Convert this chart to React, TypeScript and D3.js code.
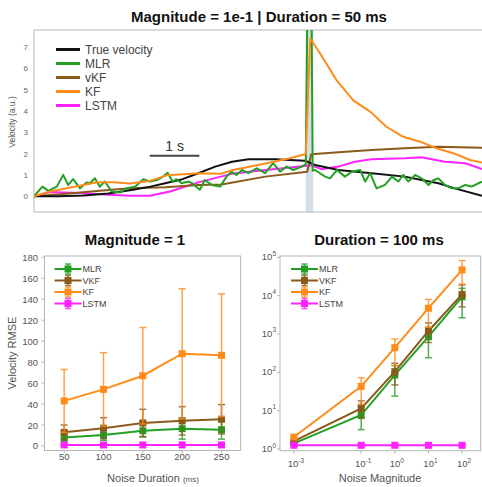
import React from "react";
import * as d3 from "d3";

// ---- top panel: decoded velocity traces, [time (s), velocity (a.u.)]
const trueVelocity: [number, number][] = [
  [0, 0], [0.5, 0], [1, 0.03], [1.5, 0.13], [2, 0.3], [2.35, 0.45], [2.65, 0.61], [3, 0.8],
  [3.32, 1.08], [3.66, 1.39], [4, 1.62], [4.33, 1.73], [4.87, 1.73], [5.47, 1.67], [5.68, 1.47],
  [6.15, 1.23], [6.82, 1.08], [7.49, 0.92], [7.83, 0.76], [8.17, 0.61], [8.5, 0.37], [9.05, 0.02],
];
const mlrTrace: [number, number][] = [
  [0, 0], [0.17, 0.45], [0.29, 0.25], [0.46, 0.45], [0.59, 1.0], [0.69, 0.53], [0.79, 0.8],
  [0.93, 0.37], [1.06, 0.64], [1.13, 0.61], [1.23, 0.84], [1.33, 0.45], [1.43, 0.69], [1.57, 0.22],
  [1.74, 0.17], [1.87, 0.37], [2.04, 0.45], [2.21, 0.8], [2.34, 0.69], [2.48, 0.76], [2.61, 0.92],
  [2.7, 1.1], [2.8, 0.69], [2.88, 0.8], [2.98, 0.61], [3.12, 0.69], [3.2, 0.6], [3.35, 0.3],
  [3.45, 0.76], [3.59, 0.53], [3.76, 0.45], [3.89, 0.92], [3.99, 1.15], [4.09, 1.0], [4.2, 1.23],
  [4.33, 1.08], [4.5, 1.31], [4.67, 1.08], [4.83, 1.55], [4.97, 1.15], [5.1, 1.39], [5.24, 1.23],
  [5.41, 1.39], [5.49, 1.5], [5.57, 20], [5.63, 1.2], [5.68, 1.23], [5.88, 0.92], [5.98, 0.84],
  [6.12, 1.23], [6.28, 0.92], [6.42, 1.15], [6.59, 1.23], [6.69, 0.69], [6.79, 1.08], [6.92, 0.37],
  [7.09, 0.53], [7.23, 0.92], [7.36, 0.69], [7.46, 1.0], [7.56, 0.69], [7.7, 1.0], [7.83, 0.84],
  [7.97, 0.53], [8.07, 0.76], [8.17, 0.84], [8.3, 0.53], [8.44, 0.37], [8.57, 0.37], [8.71, 0.53],
  [8.84, 0.45], [8.98, 0.61], [9.05, 0.69],
];
const vkfTrace: [number, number][] = [
  [0, 0], [0.59, 0.11], [1.27, 0.25], [1.94, 0.37], [2.65, 0.42], [3.32, 0.53], [3.79, 0.55],
  [4.67, 0.92], [5.52, 1.15], [5.6, 1.97], [6.15, 2.06], [6.82, 2.17], [7.49, 2.25], [8.17, 2.32],
  [8.6, 2.3], [9.05, 2.27],
];
const kfTrace: [number, number][] = [
  [0, 0], [0.32, 0.22], [0.66, 0.37], [1.0, 0.53], [1.27, 0.66], [1.6, 0.66], [1.94, 0.6],
  [2.34, 0.72], [2.68, 0.98], [3.35, 1.08], [3.76, 1.05], [4.02, 1.23], [4.7, 1.55], [5.17, 1.78],
  [5.49, 1.98], [5.58, 7.4], [5.78, 6.7], [6.11, 5.45], [6.45, 4.5], [6.79, 3.97], [7.12, 3.26],
  [7.46, 2.79], [7.8, 2.56], [8.13, 2.25], [8.47, 2.02], [8.81, 1.7], [9.05, 1.58],
];
const lstmTrace: [number, number][] = [
  [0, 0], [0.32, 0.2], [0.93, 0.15], [1.6, 0.06], [1.94, 0.02], [2.34, 0.02], [2.75, 0.22],
  [3.32, 0.65], [3.99, 1.05], [4.67, 1.23], [5.47, 1.42], [5.6, 1.45], [5.81, 1.27], [6.15, 1.39],
  [6.48, 1.62], [6.82, 1.73], [7.49, 1.78], [7.83, 1.83], [8.3, 1.62], [8.71, 1.55], [9.05, 1.28],
];
const noiseWindow = [5.49, 5.64];
const topYTicks = [0, 1, 2, 3, 4, 5, 6, 7];

// ---- bottom left: RMSE vs noise duration (magnitude = 1)
const durations = [50, 100, 150, 200, 250];
const durMLR = [8, 10.5, 14.5, 16.5, 15.5];
const durMLRsd = [4, 5, 6, 10, 9];
const durVKF = [13, 17, 22, 24, 25.5];
const durVKFsd = [7, 10, 13, 13.5, 14];
const durKF = [43, 54, 67, 88, 86.5];
const durKFsd = [30, 35, 46, 62, 58.5];
const durLSTM = [1, 1, 1, 1, 1];
const durLSTMsd = [0.3, 0.3, 0.3, 0.3, 0.3];
const leftYTicks = [0, 20, 40, 60, 80, 100, 120, 140, 160, 180];

// ---- bottom right: RMSE vs noise magnitude (duration = 100 ms)
const magnitudes = [1e-3, 1e-1, 1, 10, 100];
const magExp = ["-3", "-1", "0", "1", "2"];
const magMLR = [1.4, 7.7, 85, 850, 9300];
const magMLRlo = [1.3, 3.2, 24, 240, 2650];
const magMLRhi = [1.5, 13, 150, 1500, 15500];
const magVKF = [1.6, 11.5, 104, 1200, 10800];
const magVKFlo = [1.5, 6.3, 47, 600, 5100];
const magVKFhi = [1.7, 18, 172, 1950, 19000];
const magKF = [2.05, 43, 440, 4700, 47000];
const magKFlo = [1.9, 15, 150, 1500, 20000];
const magKFhi = [2.2, 72, 740, 8000, 82000];
const magLSTM = [1.25, 1.25, 1.25, 1.25, 1.25];
const magLSTMlo = [1.2, 1.2, 1.2, 1.2, 1.2];
const magLSTMhi = [1.3, 1.3, 1.3, 1.3, 1.3];
const rightYExp = [0, 1, 2, 3, 4, 5];

const C = {
  black: "#111111",
  green: "#23a023",
  brown: "#8b5a1b",
  orange: "#ff8c1a",
  magenta: "#ff22ff",
  frame: "#b5b5b5",
  text: "#555",
};
const FONT = "Liberation Sans, Arial, sans-serif";

type Pt = { x: number; y: number; lo: number; hi: number };

function ErrSeries({ pts, xs, ys, color }: { pts: Pt[]; xs: any; ys: any; color: string }) {
  const line = d3.line<Pt>().x((d) => xs(d.x)).y((d) => ys(d.y));
  return (
    <g>
      {pts.map((d, i) => (
        <g key={i} stroke={color} strokeWidth={1.5} opacity={0.8}>
          <line x1={xs(d.x)} x2={xs(d.x)} y1={ys(d.lo)} y2={ys(d.hi)} />
          <line x1={xs(d.x) - 3.5} x2={xs(d.x) + 3.5} y1={ys(d.lo)} y2={ys(d.lo)} />
          <line x1={xs(d.x) - 3.5} x2={xs(d.x) + 3.5} y1={ys(d.hi)} y2={ys(d.hi)} />
        </g>
      ))}
      <path d={line(pts) || ""} fill="none" stroke={color} strokeWidth={2} />
      {pts.map((d, i) => (
        <rect key={i} x={xs(d.x) - 3.5} y={ys(d.y) - 3.5} width={7} height={7} fill={color} />
      ))}
    </g>
  );
}

function ErrLegend({ x, y, items }: { x: number; y: number; items: [string, string][] }) {
  return (
    <g>
      {items.map(([name, color], i) => {
        const yy = y + i * 11.5;
        return (
          <g key={name}>
            <line x1={x} x2={x + 27} y1={yy} y2={yy} stroke={color} strokeWidth={2} />
            <line x1={x + 13.5} x2={x + 13.5} y1={yy - 5} y2={yy + 5} stroke={color} strokeWidth={1.5} opacity={0.8} />
            <line x1={x + 10.5} x2={x + 16.5} y1={yy - 5} y2={yy - 5} stroke={color} strokeWidth={1.5} opacity={0.8} />
            <line x1={x + 10.5} x2={x + 16.5} y1={yy + 5} y2={yy + 5} stroke={color} strokeWidth={1.5} opacity={0.8} />
            <rect x={x + 10} y={yy - 3.5} width={7} height={7} fill={color} />
            <text x={x + 28} y={yy + 3.3} fontSize={9} fill="#444">{name}</text>
          </g>
        );
      })}
    </g>
  );
}

export default function App() {
  // top panel scales
  const xT = d3.scaleLinear().domain([0, 9.05]).range([34, 482]);
  const yT = d3.scaleLinear().domain([-0.74, 7.8]).range([212, 30]);
  const traceLine = d3.line<[number, number]>().x((d) => xT(d[0])).y((d) => yT(d[1]));
  const traces: [string, string, [number, number][]][] = [
    ["True velocity", C.black, trueVelocity],
    ["MLR", C.green, mlrTrace],
    ["vKF", C.brown, vkfTrace],
    ["KF", C.orange, kfTrace],
    ["LSTM", C.magenta, lstmTrace],
  ];
  const drawOrder = [4, 2, 0, 1, 3];

  // bottom left
  const xL = d3.scaleLinear().domain([25, 274.4]).range([44.5, 240.7]);
  const yL = d3.scaleLinear().domain([-4.3, 181.2]).range([450.5, 256]);
  const sdPts = (m: number[], sd: number[]): Pt[] =>
    durations.map((x, i) => ({ x, y: m[i], lo: m[i] - sd[i], hi: m[i] + sd[i] }));

  // bottom right
  const xR = d3.scaleLog().domain([10 ** -3.415, 10 ** 2.554]).range([280, 480.7]);
  const yR = d3.scaleLog().domain([10 ** -0.044, 10 ** 5.034]).range([450.7, 256]);
  const rangePts = (m: number[], lo: number[], hi: number[]): Pt[] =>
    magnitudes.map((x, i) => ({ x, y: m[i], lo: lo[i], hi: hi[i] }));

  const legendItems: [string, string][] = [
    ["MLR", C.green],
    ["VKF", C.brown],
    ["KF", C.orange],
    ["LSTM", C.magenta],
  ];

  return (
    <div style={{ position: "absolute", left: 0, top: 0 }}>
      <svg width={482} height={487} style={{ display: "block", background: "#fff" }} fontFamily={FONT}>
        <defs>
          <clipPath id="topClip">
            <rect x={34} y={30} width={460} height={182} />
          </clipPath>
        </defs>

        {/* ---------- top panel ---------- */}
        <text x={259} y={22} textAnchor="middle" fontSize={15} fontWeight="bold" fill="#111">
          Magnitude = 1e-1 | Duration = 50 ms
        </text>
        <rect x={xT(noiseWindow[0])} y={30} width={xT(noiseWindow[1]) - xT(noiseWindow[0])} height={182} fill="#d3dfe8" />
        <g fill="none" stroke={C.frame} strokeWidth={1}>
          <line x1={34} x2={482} y1={30} y2={30} />
          <line x1={34} x2={482} y1={212} y2={212} />
          <line x1={34} x2={34} y1={30} y2={212} />
        </g>
        {topYTicks.map((t) => (
          <text key={t} x={28} y={yT(t) + 3} textAnchor="end" fontSize={8} fill="#666">{t}</text>
        ))}
        <text transform={`translate(15,122) rotate(-90)`} textAnchor="middle" fontSize={8.5} fill="#555">
          Velocity (a.u.)
        </text>
        <g clipPath="url(#topClip)">
          {drawOrder.map((i) => (
            <path key={i} d={traceLine(traces[i][2]) || ""} fill="none" stroke={traces[i][1]} strokeWidth={2} strokeLinejoin="round" />
          ))}
        </g>
        {/* 1 s scale bar */}
        <line x1={xT(2.34)} x2={xT(3.34)} y1={yT(1.9)} y2={yT(1.9)} stroke="#444" strokeWidth={2} />
        <text x={xT(2.84)} y={yT(1.9) - 4.5} textAnchor="middle" fontSize={14} fill="#333">1 s</text>
        {traces.map(([name, color], i) => {
          const yy = 49.5 + i * 14;
          return (
            <g key={name}>
              <line x1={56} x2={80} y1={yy} y2={yy} stroke={color} strokeWidth={3} />
              <text x={85} y={yy + 4} fontSize={12} fill="#444">{name}</text>
            </g>
          );
        })}

        {/* ---------- bottom left ---------- */}
        <text x={135} y={245} textAnchor="middle" fontSize={15} fontWeight="bold" fill="#111">Magnitude = 1</text>
        <rect x={44.5} y={256} width={196.2} height={194.5} fill="none" stroke={C.frame} />
        {leftYTicks.map((t) => (
          <g key={t}>
            <line x1={41.5} x2={44.5} y1={yL(t)} y2={yL(t)} stroke={C.frame} />
            <text x={38} y={yL(t) + 3.5} textAnchor="end" fontSize={9.5} fill={C.text}>{t}</text>
          </g>
        ))}
        {durations.map((t) => (
          <g key={t}>
            <line x1={xL(t)} x2={xL(t)} y1={450.5} y2={453.5} stroke={C.frame} />
            <text x={xL(t)} y={460} textAnchor="middle" fontSize={9.5} fill={C.text}>{t}</text>
          </g>
        ))}
        <text x={153} y={482} textAnchor="middle" fill={C.text}>
          <tspan fontSize={11}>Noise Duration </tspan>
          <tspan fontSize={8}> (ms)</tspan>
        </text>
        <text transform={`translate(16,353) rotate(-90)`} textAnchor="middle" fontSize={11} fill={C.text}>
          Velocity RMSE
        </text>
        <ErrSeries pts={sdPts(durMLR, durMLRsd)} xs={xL} ys={yL} color={C.green} />
        <ErrSeries pts={sdPts(durVKF, durVKFsd)} xs={xL} ys={yL} color={C.brown} />
        <ErrSeries pts={sdPts(durKF, durKFsd)} xs={xL} ys={yL} color={C.orange} />
        <ErrSeries pts={sdPts(durLSTM, durLSTMsd)} xs={xL} ys={yL} color={C.magenta} />
        <ErrLegend x={54.5} y={269} items={legendItems} />

        {/* ---------- bottom right ---------- */}
        <text x={379} y={245} textAnchor="middle" fontSize={15} fontWeight="bold" fill="#111">Duration = 100 ms</text>
        <rect x={280} y={256} width={200.7} height={194.7} fill="none" stroke={C.frame} />
        {rightYExp.map((e) => (
          <g key={e}>
            <line x1={277} x2={280} y1={yR(10 ** e)} y2={yR(10 ** e)} stroke={C.frame} />
            <text x={276} y={yR(10 ** e) + 3} textAnchor="end" fill={C.text}>
              <tspan fontSize={9.5}>10</tspan>
              <tspan fontSize={6.5} dy={-4.5}>{e}</tspan>
            </text>
          </g>
        ))}
        {magnitudes.map((m, i) => (
          <g key={i}>
            <line x1={xR(m)} x2={xR(m)} y1={450.7} y2={453.7} stroke={C.frame} />
            <text x={xR(m) + 2} y={467} textAnchor="middle" fill={C.text}>
              <tspan fontSize={9.5}>10</tspan>
              <tspan fontSize={6.5} dy={-4.5}>{magExp[i]}</tspan>
            </text>
          </g>
        ))}
        <text x={380} y={482} textAnchor="middle" fontSize={11} fill={C.text}>Noise Magnitude</text>
        <ErrSeries pts={rangePts(magMLR, magMLRlo, magMLRhi)} xs={xR} ys={yR} color={C.green} />
        <ErrSeries pts={rangePts(magVKF, magVKFlo, magVKFhi)} xs={xR} ys={yR} color={C.brown} />
        <ErrSeries pts={rangePts(magKF, magKFlo, magKFhi)} xs={xR} ys={yR} color={C.orange} />
        <ErrSeries pts={rangePts(magLSTM, magLSTMlo, magLSTMhi)} xs={xR} ys={yR} color={C.magenta} />
        <ErrLegend x={291} y={269} items={legendItems} />
      </svg>
    </div>
  );
}
